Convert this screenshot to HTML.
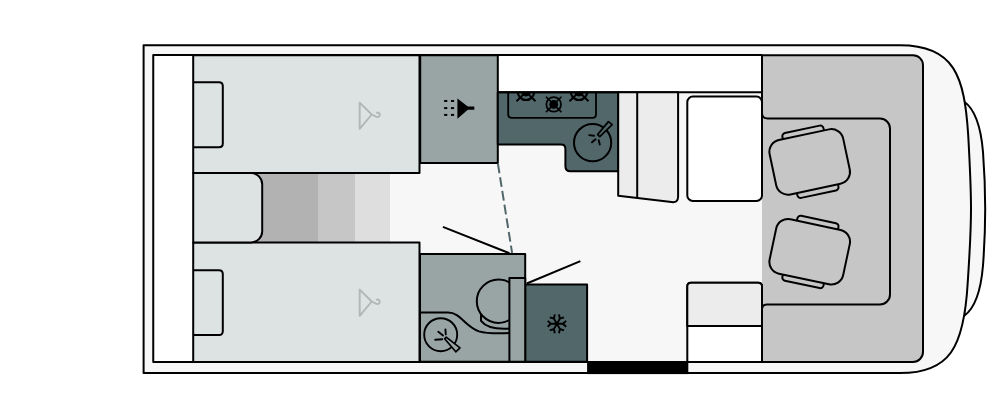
<!DOCTYPE html>
<html><head><meta charset="utf-8"><title>Floor plan</title>
<style>
html,body{margin:0;padding:0;background:#fff;}
body{width:1000px;height:418px;overflow:hidden;font-family:"Liberation Sans",sans-serif;}
svg{display:block;}
</style></head>
<body>
<svg width="1000" height="418" viewBox="0 0 1000 418">
<rect width="1000" height="418" fill="#fff"/>
<g stroke="#000" stroke-width="2" stroke-linejoin="round" stroke-linecap="butt" fill="none">
<!-- bumper -->
<path d="M964.3,101.8 C973,108 980.5,122 983,152 C984.5,172 985.2,190 985.2,208.75 C985.2,227.5 984.5,245.5 983,265.5 C980.5,295.5 973,309.5 964.3,315.7 Z" fill="#f7f7f7"/>
<!-- body -->
<path d="M143.6,45.3 H900 C954.6,45.3 964.4,76.3 968.2,135 C969.6,160 971,185 971,208.75 C971,232.5 969.4,257.5 967.7,283 C964,347.5 949.7,373.1 900,373.1 H143.6 Z" fill="#f7f7f7"/>
<!-- white strip left -->
<rect x="153" y="55" width="41" height="307" fill="#fff" stroke="none"/>
<!-- top window white -->
<rect x="497.8" y="55" width="264.2" height="37.2" fill="#fff" stroke="none"/>
<!-- steps -->
<rect x="250" y="173" width="68" height="70" fill="#b2b2b2" stroke="none"/>
<rect x="318" y="173" width="37" height="70" fill="#c6c6c6" stroke="none"/>
<rect x="355" y="173" width="35" height="70" fill="#dedede" stroke="none"/>
<!-- cab gray -->
<path d="M762,55.2 H913 A10,10 0 0 1 923,65.2 V352 A10,10 0 0 1 913,362 H762 Z" fill="#c6c6c6" stroke="none"/>
<path d="M762,118 V55.2 H913 A10,10 0 0 1 923,65.2 V352 A10,10 0 0 1 913,362 H762 V308"/>
<path d="M762,113 Q762,118.5 767.5,118.5 H880 A10,10 0 0 1 890,128.5 V294.4 A10,10 0 0 1 880,304.4 H767 Q762,304.4 762,309.5" />
<!-- beds -->
<rect x="193.2" y="55.2" width="226.3" height="117.9" fill="#dde2e2"/>
<rect x="193.2" y="242.4" width="226.3" height="119.7" fill="#dde2e2"/>
<path d="M193.2,82.2 H219 Q222.8,82.2 222.8,86 V143.5 Q222.8,147.3 219,147.3 H193.2"/>
<path d="M193.2,270.2 H219 Q222.8,270.2 222.8,274 V331.3 Q222.8,335.1 219,335.1 H193.2"/>
<path d="M193.2,173.1 H251 A11.2,11.2 0 0 1 262.2,184.3 V231.2 A11.2,11.2 0 0 1 251,242.4 H193.2 Z" fill="#dde2e2"/>
<!-- shower -->
<rect x="420.2" y="55.2" width="77.6" height="107.7" fill="#99a5a5"/>
<!-- kitchen -->
<path d="M497.8,92.2 H618.2 V171.2 H570.4 Q565.4,171.2 565.4,166.2 V148.9 Q565.4,144.5 561,144.5 H497.8 Z" fill="#51676a"/>
<line x1="497.8" y1="92.2" x2="762" y2="92.2"/>
<!-- bench -->
<path d="M618.2,92.2 H678.1 V196.8 Q678,203 671.5,202 L618.2,195.8 Z" fill="#ececec"/>
<line x1="637.2" y1="92.2" x2="637.2" y2="197.6"/>
<!-- table -->
<rect x="687.3" y="96.6" width="74.7" height="104.3" rx="5.5" fill="#fff"/>
<!-- side seat -->
<path d="M687.3,362.1 V286.5 Q687.3,282.7 691,282.7 H758 Q762,282.7 762,286.5 V362.1 Z" fill="#fff"/>
<path d="M687.3,326 V286.5 Q687.3,282.7 691,282.7 H758 Q762,282.7 762,286.5 V326 Z" fill="#ececec"/>
<!-- bathroom -->
<rect x="420" y="253.9" width="105.2" height="107.8" fill="#99a5a5"/>
<!-- fridge -->
<rect x="525.2" y="284.5" width="61.9" height="77.2" fill="#51676a"/>

<!-- seats -->
<g transform="translate(809.7,161.9) rotate(-12)">
<rect x="-21.5" y="-33.4" width="42" height="9" rx="3.2" fill="#c6c6c6"/>
<rect x="-19" y="24.4" width="42" height="9" rx="3.2" fill="#c6c6c6"/>
<rect x="-37.6" y="-27.8" width="75.2" height="55.6" rx="12" fill="#c6c6c6"/>
</g>
<g transform="translate(809.7,251.8) rotate(12)">
<rect x="-19" y="-33.4" width="42" height="9" rx="3.2" fill="#c6c6c6"/>
<rect x="-21.5" y="24.4" width="42" height="9" rx="3.2" fill="#c6c6c6"/>
<rect x="-37.6" y="-27.8" width="75.2" height="55.6" rx="12" fill="#c6c6c6"/>
</g>
<!-- hob -->
<clipPath id="kc"><rect x="497.8" y="92.2" width="120" height="80"/></clipPath>
<g clip-path="url(#kc)" stroke-width="1.8">
<path d="M508.2,85 V114.5 Q508.2,117.8 511.5,117.8 H592.5 Q596,117.8 596,114.5 V85"/>
<circle cx="553.7" cy="104.4" r="7.3"/><circle cx="553.7" cy="104.4" r="4.4" fill="#000" stroke="none"/>
<path d="M546,96.7 L561.4,112.1 M561.4,96.7 L546,112.1" stroke-width="1.6"/>
<circle cx="526" cy="91.8" r="8.2" stroke-width="2.2"/><circle cx="526" cy="91.8" r="4.7" fill="#000" stroke="none"/>
<path d="M516.5,82.3 L535.5,101.3 M535.5,82.3 L516.5,101.3" stroke-width="2"/>
<circle cx="579" cy="91.8" r="8.2" stroke-width="2.2"/><circle cx="579" cy="91.8" r="4.7" fill="#000" stroke="none"/>
<path d="M569.5,82.3 L588.5,101.3 M588.5,82.3 L569.5,101.3" stroke-width="2"/>
</g>
<!-- kitchen sink -->
<circle cx="592.6" cy="142.7" r="18.6" stroke-width="2"/>
<g stroke-width="1.9" stroke-linecap="round">
<path d="M589.2,135.1 L594,135.7 M592,142.3 L595.6,139.3 M598.7,140.2 L599.8,144.6"/>
</g>
<path d="M597.6,134.6 L608.4,121.6 L612.2,124.6 L599.8,136.6 Z" fill="#51676a" stroke-width="1.7"/>
<!-- bathroom fixtures -->
<clipPath id="bc"><rect x="420" y="254" width="89.4" height="108"/></clipPath>
<g clip-path="url(#bc)" stroke-width="2">
<path d="M481,313 V320.8 C486,327.3 497,329.6 512,328.3"/>
<circle cx="498.5" cy="301.2" r="21.7" fill="#99a5a5"/>
<path d="M420,312.6 H448 C461,312.6 464,326 479,331.4 C488,334 500,333.6 511,333"/>
</g>
<rect x="509.4" y="278" width="15.8" height="83.7" fill="#99a5a5"/>
<circle cx="440.7" cy="334.7" r="16.5" stroke-width="1.9"/>
<g stroke-width="1.9" stroke-linecap="round">
<path d="M435.2,339.8 L442.2,339.3 M438.3,331.8 L443,335.6 M445.4,329.4 L445.8,334.4"/>
</g>
<path d="M444.6,338.8 L446.2,337.2 L460,347.9 L455.8,351.8 Z" fill="#99a5a5" stroke-width="1.7"/>
<!-- door lines -->
<line x1="442.9" y1="226.9" x2="509.5" y2="253.3" stroke-width="2"/>
<line x1="526.8" y1="283.5" x2="580.4" y2="261.1" stroke-width="2"/>
<line x1="497.9" y1="163.6" x2="512.1" y2="253" stroke="#51676a" stroke-width="2" stroke-dasharray="9.8 4.05"/>
<!-- shower icon -->
<g fill="#000" stroke="none">
<path d="M457.4,98.4 L467.8,106.5 H474.3 V109.8 H467.8 L457.4,118.8 Z"/>
<rect x="444.1" y="100" width="3.2" height="2"/><rect x="450.9" y="100" width="3.2" height="2"/>
<rect x="444.1" y="107.1" width="3.2" height="2"/><rect x="450.9" y="107.1" width="3.2" height="2"/>
<rect x="444.1" y="113.9" width="3.2" height="2"/><rect x="450.9" y="113.9" width="3.2" height="2"/>
</g>
<!-- snowflake -->
<g stroke-width="1.9" stroke-linecap="butt" stroke-linejoin="miter" transform="translate(556.9,323.8)">
<g id="arm"><path d="M-7.6,0 H7.6 M-9.2,-2.9 L-6,0 L-9.2,2.9 M9.2,-2.9 L6,0 L9.2,2.9"/></g>
<use href="#arm" transform="rotate(60)"/><use href="#arm" transform="rotate(120)"/>
</g>
<!-- hangers -->
<g stroke="#b2b6b6" stroke-width="1.9" stroke-linecap="round">
<path id="hg" d="M371.7,114.5 L359.7,102.6 V128.8 L371.7,114.5 L376,116.6 C379.5,118 380.6,114.6 379.2,113.3 C378.4,112.5 377.4,112.4 376.8,112.8"/>
<use href="#hg" y="187"/>
</g>
<!-- inner outline -->
<path d="M762,55.1 H153.25 V362.1 H762"/>
<!-- threshold -->
<rect x="587.1" y="361.1" width="101.2" height="13" fill="#000" stroke="none"/>
</g>
</svg>
</body></html>
